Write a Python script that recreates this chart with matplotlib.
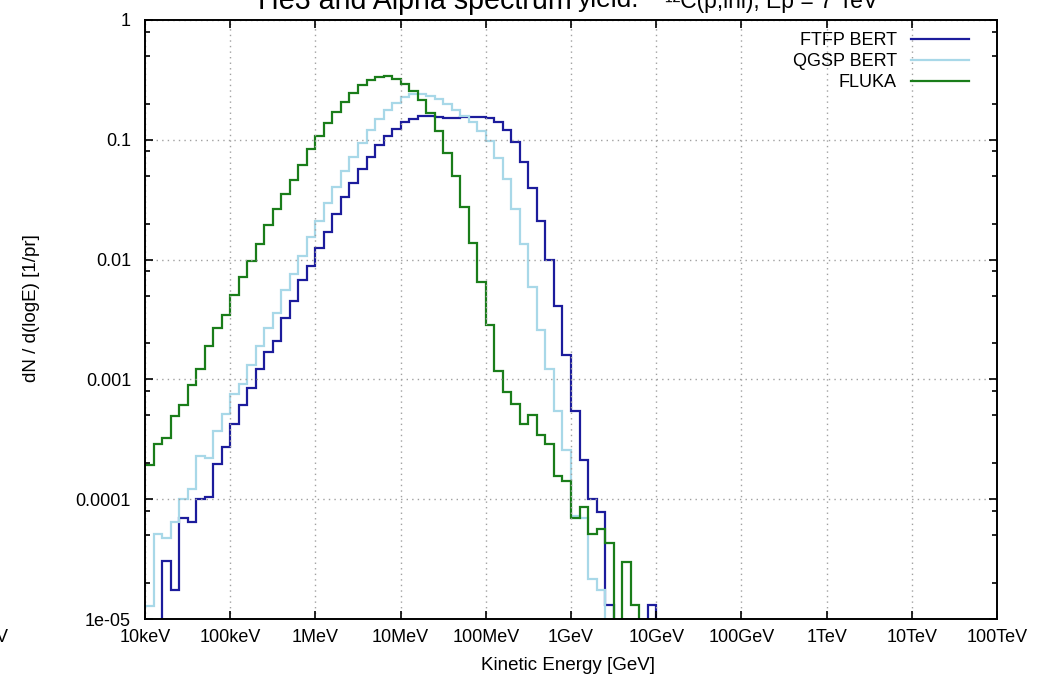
import numpy as np
import matplotlib
matplotlib.use('Agg')
import matplotlib.pyplot as plt
from matplotlib.ticker import FixedLocator, NullFormatter

plt.rcParams['font.family'] = ['Liberation Sans', 'DejaVu Sans']

# binning: 10 bins per decade starting at 10 keV (1e-5 GeV)
e_min_log = -5
bins_per_decade = 10

# dN/d(logE) per bin, 0 = empty bin
fluka = [1.94e-4, 2.90e-4, 3.24e-4, 4.94e-4, 6.11e-4, 8.91e-4, 1.23e-3, 1.89e-3, 2.69e-3, 3.45e-3,
         5.04e-3, 7.16e-3, 9.82e-3, 0.0136, 0.0194, 0.0262, 0.0351, 0.0462, 0.0621, 0.0841,
         0.107, 0.138, 0.172, 0.208, 0.248, 0.287, 0.314, 0.333, 0.340, 0.324,
         0.294, 0.256, 0.214, 0.167, 0.119, 0.0783, 0.0499, 0.0276, 0.0138, 6.46e-3,
         2.82e-3, 1.17e-3, 7.83e-4, 6.18e-4, 4.27e-4, 5.07e-4, 3.45e-4, 2.90e-4, 1.55e-4, 1.43e-4,
         6.98e-5, 8.57e-5, 5.13e-5, 5.65e-5, 4.29e-5, 0, 3.01e-5, 1.31e-5, 0]

ftfp_bert = [0, 0, 3.03e-5, 1.73e-5, 6.93e-5, 6.50e-5, 1.00e-4, 1.04e-4, 1.95e-4, 2.72e-4,
             4.27e-4, 6.11e-4, 8.51e-4, 1.21e-3, 1.69e-3, 2.09e-3, 3.27e-3, 4.52e-3, 6.71e-3, 8.91e-3,
             0.0126, 0.0171, 0.0238, 0.0335, 0.0439, 0.0571, 0.0724, 0.0897, 0.107, 0.124,
             0.140, 0.150, 0.157, 0.157, 0.156, 0.153, 0.153, 0.154, 0.155, 0.155,
             0.151, 0.142, 0.121, 0.0951, 0.0655, 0.0399, 0.0208, 0.0100, 4.12e-3, 1.61e-3,
             5.41e-4, 2.14e-4, 1.00e-4, 7.78e-5, 1.31e-5, 0, 0, 0, 0, 1.31e-5, 0]

qgsp_bert = [1.29e-5, 5.13e-5, 4.75e-5, 6.50e-5, 1.00e-4, 1.21e-4, 2.29e-4, 2.20e-4, 3.70e-4, 5.16e-4,
             7.59e-4, 9.20e-4, 1.31e-3, 1.90e-3, 2.69e-3, 3.61e-3, 5.55e-3, 7.64e-3, 0.0108, 0.0154,
             0.0208, 0.0294, 0.0404, 0.0550, 0.0724, 0.0944, 0.120, 0.149, 0.176, 0.201,
             0.228, 0.240, 0.243, 0.234, 0.218, 0.198, 0.177, 0.159, 0.140, 0.119,
             0.0986, 0.0711, 0.0471, 0.0264, 0.0135, 5.94e-3, 2.56e-3, 1.21e-3, 5.41e-4, 2.58e-4,
             7.31e-5, 6.93e-5, 2.16e-5, 1.75e-5, 0]

x_ticks = [1e-5, 1e-4, 1e-3, 1e-2, 1e-1, 1, 10, 100, 1e3, 1e4, 1e5]
x_labels = ['10keV', '100keV', '1MeV', '10MeV', '100MeV', '1GeV', '10GeV',
            '100GeV', '1TeV', '10TeV', '100TeV']
y_ticks = [1e-5, 1e-4, 1e-3, 1e-2, 1e-1, 1]
y_labels = ['1e-05', '0.0001', '0.001', '0.01', '0.1', '1']

series = [('FTFP BERT', ftfp_bert, '#1c1c9c'),
          ('QGSP BERT', qgsp_bert, '#a8d8e8'),
          ('FLUKA', fluka, '#1a7d1a')]

fig = plt.figure(figsize=(10.43, 6.83), dpi=100)
ax = fig.add_axes([145/1043, 1 - 619/683, 852/1043, 599/683])

for label, vals, col in series:
    v = np.array(vals, dtype=float)
    edges = 10.0 ** (e_min_log + np.arange(len(v) + 1) / bins_per_decade)
    v = np.where(v > 0, v, 1e-9)
    ax.stairs(v, edges, baseline=None, color=col, lw=1.6, label=label)

ax.set_xscale('log')
ax.set_yscale('log')
ax.set_xlim(1e-5, 1e5)
ax.set_ylim(1e-5, 1)

ax.xaxis.set_major_locator(FixedLocator(x_ticks))
ax.set_xticklabels(x_labels)
ax.xaxis.set_minor_locator(FixedLocator([]))
ax.yaxis.set_major_locator(FixedLocator(y_ticks))
ax.set_yticklabels(y_labels)
minor_y = [m * 10.0 ** k for k in range(-5, 0) for m in (2, 5, 8)]
ax.yaxis.set_minor_locator(FixedLocator(minor_y))
ax.yaxis.set_minor_formatter(NullFormatter())

ax.tick_params(which='both', direction='in', top=True, right=True, width=1.2, labelsize=13)
ax.tick_params(which='major', length=6)
ax.tick_params(which='minor', length=3.5)
ax.tick_params(axis='y', pad=10)
ax.tick_params(axis='x', pad=7)

ax.grid(True, which='major', color='#a0a0a0', linestyle=(0, (1, 3)), lw=1.0)
for s in ax.spines.values():
    s.set_linewidth(1.4)

ax.legend(loc='upper right', bbox_to_anchor=(0.967, 0.980), frameon=False,
          markerfirst=False, fontsize=13, handlelength=3.2, handletextpad=0.8,
          labelspacing=0.22, borderpad=0, borderaxespad=0)

fig.text(32/1043, 1 - 308/683, 'dN / d(logE) [1/pr]', rotation=90,
         ha='center', va='center', fontsize=13.5)
fig.text(568/1043, 1 - 665/683, 'Kinetic Energy [GeV]', ha='center', va='center', fontsize=13.5)
fig.text(8/1043, 1 - 638/683, 'V', ha='right', va='center', fontsize=13)

# title is cut off at the top of the image
fig.text(258/1043, 1 - 9/683, 'He3 and Alpha spectrum', ha='left', va='baseline', fontsize=20.6)
fig.text(578/1043, 1 - 7.5/683, 'yield:', ha='left', va='baseline', fontsize=19)
fig.text(878/1043, 1 - 8/683, '\u00b9\u00b2C(p,inl), Ep = 7 TeV', ha='right', va='baseline', fontsize=16.5)

fig.savefig('out.png', dpi=100)
